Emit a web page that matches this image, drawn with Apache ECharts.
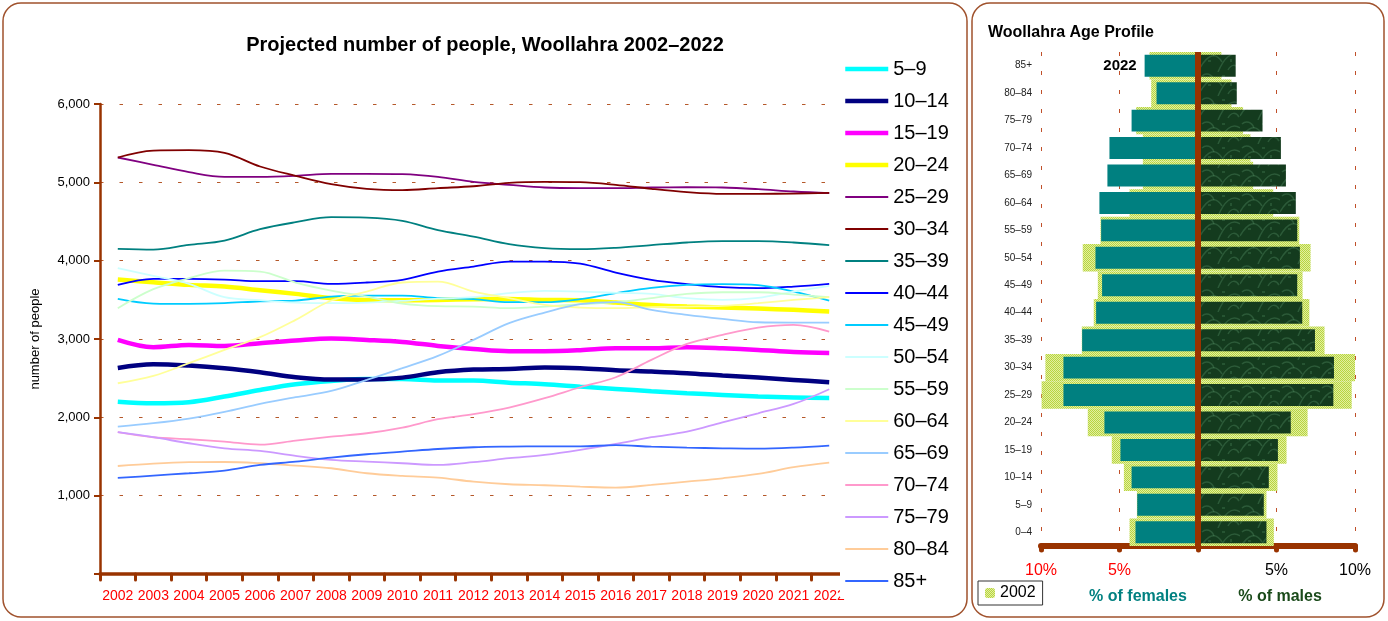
<!DOCTYPE html>
<html>
<head>
<meta charset="utf-8">
<script src="https://cdn.jsdelivr.net/npm/echarts@6/dist/echarts.min.js"></script>
<style>
  html, body { margin: 0; padding: 0; background: #fff; }
  #main { width: 1388px; height: 621px; }
</style>
</head>
<body>
<div id="main"></div>
<script>
// years on the line chart
var years = ['2002','2003','2004','2005','2006','2007','2008','2009','2010','2011','2012',
             '2013','2014','2015','2016','2017','2018','2019','2020','2021','2022'];
var lineAges = ['5–9','10–14','15–19','20–24','25–29','30–34','35–39','40–44','45–49',
                '50–54','55–59','60–64','65–69','70–74','75–79','80–84','85+'];
var lineColors = ['#00FFFF','#000080','#FF00FF','#FFFF00','#800080','#800000','#008080','#0000FF','#00CCFF',
                  '#CCFFFF','#CCFFCC','#FFFF99','#99CCFF','#FF99CC','#CC99FF','#FFCC99','#3366FF'];

// projected number of people, one array per age group
var a5_9   = [2200,2180,2193,2265,2350,2423,2465,2490,2490,2469,2469,2443,2423,2392,2363,2333,2308,2286,2265,2252,2248];
var a10_14 = [2631,2678,2661,2627,2576,2512,2482,2482,2507,2576,2610,2618,2635,2627,2601,2584,2563,2533,2507,2478,2448];
var a15_19 = [2988,2895,2925,2912,2946,2980,3005,2988,2963,2912,2873,2844,2844,2857,2882,2882,2895,2882,2861,2835,2822];
var a20_24 = [3759,3725,3691,3669,3623,3576,3521,3499,3495,3499,3508,3512,3499,3495,3465,3435,3414,3401,3388,3372,3350];
var a25_29 = [5317,5224,5130,5070,5070,5083,5109,5109,5104,5070,5006,4968,4934,4926,4926,4934,4938,4934,4913,4883,4862];
var a30_34 = [5317,5406,5411,5377,5202,5083,4977,4917,4900,4926,4950,4994,5006,5002,4968,4917,4875,4853,4853,4857,4866];
var a35_39 = [4151,4142,4202,4257,4402,4491,4555,4549,4508,4389,4308,4211,4160,4147,4164,4198,4232,4249,4249,4232,4198];
var a40_44 = [3691,3768,3768,3759,3738,3738,3704,3721,3755,3861,3925,3989,3989,3963,3848,3755,3700,3661,3649,3669,3704];
var a45_49 = [3512,3452,3448,3457,3482,3491,3542,3555,3555,3521,3508,3470,3470,3508,3585,3653,3691,3700,3687,3606,3491];
var a50_54 = [3904,3806,3704,3534,3495,3465,3457,3465,3487,3516,3534,3585,3614,3606,3589,3576,3521,3499,3525,3606,3678];
var a55_59 = [3393,3636,3776,3874,3861,3721,3619,3542,3452,3419,3414,3393,3414,3444,3470,3521,3576,3597,3597,3567,3534];
var a60_64 = [2435,2529,2691,2861,3023,3244,3491,3606,3721,3733,3606,3521,3435,3401,3393,3406,3414,3423,3457,3499,3534];
var a65_69 = [1881,1925,1984,2069,2171,2257,2337,2478,2627,2784,2988,3202,3337,3444,3470,3372,3308,3257,3214,3210,3210];
var a70_74 = [1810,1746,1720,1690,1652,1703,1754,1797,1869,1976,2040,2124,2244,2384,2512,2733,2937,3052,3146,3180,3095];
var a75_79 = [1810,1746,1669,1605,1571,1507,1456,1434,1414,1392,1427,1478,1520,1584,1660,1746,1817,1937,2052,2171,2359];
var a80_84 = [1379,1409,1427,1430,1414,1383,1350,1286,1252,1230,1179,1146,1133,1115,1102,1137,1179,1222,1277,1363,1421];
var a85p   = [1226,1256,1286,1319,1392,1434,1486,1529,1562,1596,1618,1626,1630,1630,1644,1626,1613,1605,1600,1613,1639];
var lineData = [a5_9,a10_14,a15_19,a20_24,a25_29,a30_34,a35_39,a40_44,a45_49,a50_54,a55_59,a60_64,a65_69,a70_74,a75_79,a80_84,a85p];

// age profile (percent), bottom to top
var pyrAges  = ['0–4','5–9','10–14','15–19','20–24','25–29','30–34','35–39','40–44','45–49',
                '50–54','55–59','60–64','65–69','70–74','75–79','80–84','85+'];
var fem2002  = [4.36,3.89,4.72,5.49,7.02,9.96,9.72,7.40,6.64,6.38,7.34,6.21,4.36,3.51,3.51,3.94,2.98,3.09];
var male2002 = [4.83,4.36,5.06,5.64,6.98,9.79,10.1,8.06,7.09,6.66,7.17,6.45,4.79,3.51,3.34,2.87,2.13,1.49];
var fem2022  = [3.98,3.87,4.23,4.94,5.96,8.57,8.57,7.38,6.49,6.11,6.53,6.17,6.28,5.77,5.64,4.23,2.64,3.40];
var male2022 = [4.36,4.19,4.51,5.09,5.91,8.62,8.66,7.45,6.64,6.32,6.49,6.32,6.23,5.60,5.28,4.11,2.47,2.40];

var brown = '#993300';
var font = '"Liberation Sans", Arial, sans-serif';

// checkered fill for 2002 bars
function checkerCanvas() {
    var c = document.createElement('canvas');
    c.width = 2; c.height = 2;
    var g = c.getContext('2d');
    g.fillStyle = '#e2efa0';
    g.fillRect(0, 0, 2, 2);
    g.fillStyle = '#b8d540';
    g.fillRect(0, 0, 1, 1);
    g.fillRect(1, 1, 1, 1);
    return c;
}

// marbled dark green for male bars
function marbleCanvas() {
    var c = document.createElement('canvas');
    c.width = 40; c.height = 24;
    var g = c.getContext('2d');
    g.fillStyle = '#143b1e';
    g.fillRect(0, 0, 40, 24);
    g.strokeStyle = 'rgba(90,150,105,0.35)';
    g.lineWidth = 1.5;
    g.beginPath(); g.moveTo(0, 20); g.bezierCurveTo(8, 6, 16, 4, 22, 14); g.stroke();
    g.beginPath(); g.moveTo(18, 24); g.bezierCurveTo(24, 10, 32, 2, 40, 8); g.stroke();
    g.beginPath(); g.moveTo(2, 4); g.bezierCurveTo(6, 0, 12, 2, 14, 8); g.stroke();
    g.beginPath(); g.moveTo(28, 22); g.bezierCurveTo(31, 16, 36, 16, 39, 21); g.stroke();
    g.fillStyle = 'rgba(60,115,75,0.45)';
    g.fillRect(8, 12, 3, 2);
    g.fillRect(30, 11, 2, 3);
    g.fillRect(22, 3, 3, 2);
    return c;
}

var checker = { image: checkerCanvas(), repeat: 'repeat' };
var marble = { image: marbleCanvas(), repeat: 'repeat' };

var myChart = echarts.init(document.getElementById('main'), null, { renderer: 'canvas' });

var series = [];
for (var i = 0; i < lineAges.length; i++) {
    series.push({
        name: lineAges[i],
        type: 'line',
        xAxisIndex: 0,
        yAxisIndex: 0,
        data: lineData[i],
        symbol: 'none',
        smooth: 0.35,
        color: lineColors[i],
        lineStyle: { width: i < 4 ? 4.5 : 1.8, color: lineColors[i] },
        z: 2
    });
}

series.push(
    {
        name: '2002', type: 'bar', xAxisIndex: 1, yAxisIndex: 1, stack: 'y02',
        barWidth: '100%',
        data: fem2002.map(function (v) { return -v; }),
        itemStyle: { color: checker }
    },
    {
        name: '2002', type: 'bar', xAxisIndex: 1, yAxisIndex: 1, stack: 'y02',
        barWidth: '100%',
        data: male2002,
        itemStyle: { color: checker }
    },
    {
        name: '2022', type: 'bar', xAxisIndex: 1, yAxisIndex: 2, stack: 'y22',
        barWidth: '80%',
        data: fem2022.map(function (v) { return -v; }),
        itemStyle: { color: '#008080' }
    },
    {
        name: '2022', type: 'bar', xAxisIndex: 1, yAxisIndex: 2, stack: 'y22',
        barWidth: '80%',
        data: male2022,
        itemStyle: { color: marble },
        markLine: {
            silent: true,
            symbol: 'none',
            label: { show: false },
            lineStyle: { color: brown, width: 6, type: 'solid' },
            data: [{ xAxis: 0 }]
        }
    }
);

option = {
    animation: false,
    backgroundColor: '#fff',
    textStyle: { fontFamily: font },
    grid: [
        { left: 100, top: 104, width: 747, height: 470 },
        { left: 1041, top: 52, width: 314, height: 494 }
    ],
    legend: [
        {
            data: lineAges,
            orient: 'vertical',
            left: 840,
            top: 53,
            padding: [5, 3, 5, 3],
            backgroundColor: '#fff',
            itemWidth: 43,
            itemHeight: 14,
            itemGap: 10,
            itemStyle: { opacity: 0, borderWidth: 0 },
            lineStyle: { width: 'inherit' },
            textStyle: { fontSize: 20, lineHeight: 22, color: '#000', fontFamily: font }
        },
        {
            data: ['2002'],
            left: 978,
            top: 581,
            padding: [4, 7, 4, 7],
            borderColor: '#333',
            borderWidth: 1,
            itemWidth: 10,
            itemHeight: 10,
            itemGap: 5,
            selectedMode: false,
            textStyle: { fontSize: 16, color: '#000', fontFamily: font }
        }
    ],
    xAxis: [
        {
            type: 'category',
            gridIndex: 0,
            data: years,
            boundaryGap: true,
            axisLine: { lineStyle: { color: brown, width: 3.5 } },
            axisTick: { show: true, length: 6, lineStyle: { color: brown, width: 3, cap: 'round' } },
            axisLabel: { color: '#ff0000', fontSize: 14, margin: 15, interval: 0, fontFamily: font },
            splitLine: { show: false }
        },
        {
            type: 'value',
            gridIndex: 1,
            min: -10,
            max: 10,
            interval: 5,
            axisLine: { show: true, onZero: false, lineStyle: { color: brown, width: 6, cap: 'round' } },
            axisTick: { show: true, length: 4, lineStyle: { color: brown, width: 5, cap: 'round' } },
            axisLabel: {
                margin: 17,
                fontSize: 16,
                fontFamily: font,
                formatter: function (v) {
                    if (v < 0) return '{r|' + (-v) + '%}';
                    if (v > 0) return '{k|' + v + '%}';
                    return '';
                },
                rich: {
                    r: { color: '#ff0000', fontSize: 16, fontFamily: font },
                    k: { color: '#000', fontSize: 16, fontFamily: font }
                }
            },
            splitLine: { show: true, lineStyle: { color: '#c0502a', width: 1, type: [4, 15] } }
        }
    ],
    yAxis: [
        {
            type: 'value',
            gridIndex: 0,
            min: 0,
            max: 6000,
            interval: 1000,
            name: 'number of people',
            nameLocation: 'middle',
            nameGap: 58,
            nameRotate: 90,
            nameTextStyle: { fontSize: 13, color: '#000', fontFamily: font },
            axisLine: { show: true, lineStyle: { color: brown, width: 2.5 } },
            axisTick: { show: true, length: 6, lineStyle: { color: brown, width: 2 } },
            axisLabel: {
                fontSize: 13, color: '#000', margin: 10, fontFamily: font,
                formatter: function (v) {
                    return v === 0 ? '' : String(v).replace(/\B(?=(\d{3})+(?!\d))/g, ',');
                }
            },
            splitLine: { show: true, lineStyle: { color: '#b5582a', width: 1, type: [3.5, 16] } }
        },
        {
            type: 'category',
            gridIndex: 1,
            data: pyrAges,
            axisLine: { show: false, onZero: false },
            axisTick: { show: false },
            axisLabel: { fontSize: 10, color: '#222', margin: 9, fontFamily: font }
        },
        {
            type: 'category',
            gridIndex: 1,
            data: pyrAges,
            show: false
        }
    ],
    graphic: [
        {
            type: 'rect', silent: true, z: -10,
            shape: { x: 3, y: 3, width: 964, height: 614, r: 18 },
            style: { fill: 'none', stroke: '#a0522d', lineWidth: 1.5 }
        },
        {
            type: 'rect', silent: true, z: -10,
            shape: { x: 972, y: 3, width: 412, height: 614, r: 18 },
            style: { fill: 'none', stroke: '#a0522d', lineWidth: 1.5 }
        },
        {
            type: 'text', x: 485, y: 45, z: 10,
            style: { text: 'Projected number of people, Woollahra 2002–2022', font: 'bold 20px ' + font,
                     fill: '#000', align: 'center', verticalAlign: 'middle' }
        },
        {
            type: 'text', x: 988, y: 33, z: 10,
            style: { text: 'Woollahra Age Profile', font: 'bold 16px ' + font,
                     fill: '#000', align: 'left', verticalAlign: 'middle' }
        },
        {
            type: 'text', x: 1120, y: 66, z: 10,
            style: { text: '2022', font: 'bold 15px ' + font,
                     fill: '#000', align: 'center', verticalAlign: 'middle' }
        },
        {
            type: 'text', x: 1138, y: 597, z: 10,
            style: { text: '% of females', font: 'bold 16px ' + font,
                     fill: '#008080', align: 'center', verticalAlign: 'middle' }
        },
        {
            type: 'text', x: 1280, y: 597, z: 10,
            style: { text: '% of males', font: 'bold 16px ' + font,
                     fill: '#1a4a1a', align: 'center', verticalAlign: 'middle' }
        }
    ],
    series: series
};

myChart.setOption(option);
</script>
</body>
</html>
